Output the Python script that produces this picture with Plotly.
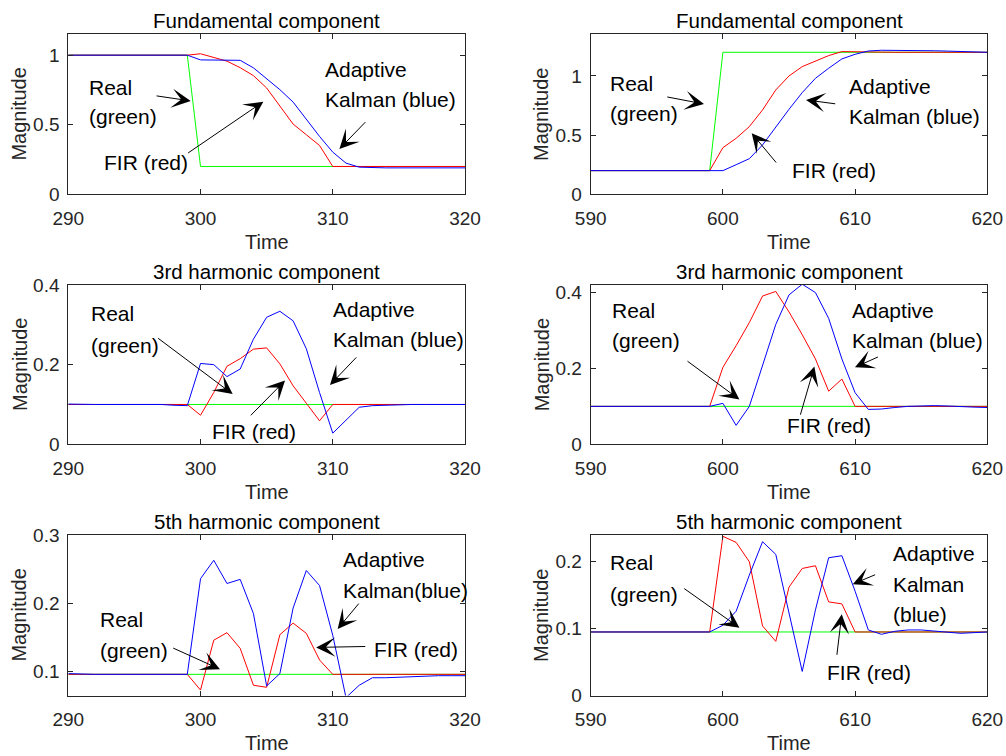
import plotly.graph_objects as go

# Time axes (one sample per time unit)
t_left = list(range(290, 321))
t_right = list(range(590, 621))

# Fundamental component, step down at t=300
real_f1 = [1.0, 1.0, 1.0, 1.0, 1.0, 1.0, 1.0, 1.0, 1.0, 1.0,
           0.2, 0.2, 0.2, 0.2, 0.2, 0.2, 0.2, 0.2, 0.2, 0.2, 0.2,
           0.2, 0.2, 0.2, 0.2, 0.2, 0.2, 0.2, 0.2, 0.2, 0.2]
fir_f1 = [1.0, 1.0, 1.0, 1.0, 1.0, 1.0, 1.0, 1.0, 1.0, 1.0,
          1.01, 0.986, 0.957, 0.91, 0.853, 0.764, 0.637, 0.505, 0.428, 0.351, 0.2,
          0.2, 0.2, 0.2, 0.2, 0.2, 0.2, 0.2, 0.2, 0.2, 0.2]
kal_f1 = [1.0, 1.0, 1.0, 1.0, 1.0, 1.0, 1.0, 1.0, 1.0, 1.0,
          0.966, 0.965, 0.965, 0.963, 0.909, 0.83, 0.752, 0.663, 0.536, 0.416, 0.303,
          0.224, 0.195, 0.19, 0.19, 0.19, 0.19, 0.19, 0.19, 0.19, 0.19]

# Fundamental component, step up at t=600
real_f2 = [0.2, 0.2, 0.2, 0.2, 0.2, 0.2, 0.2, 0.2, 0.2, 0.2,
           1.2, 1.2, 1.2, 1.2, 1.2, 1.2, 1.2, 1.2, 1.2, 1.2, 1.2,
           1.2, 1.2, 1.2, 1.2, 1.2, 1.2, 1.2, 1.2, 1.2, 1.2]
fir_f2 = [0.2, 0.2, 0.2, 0.2, 0.2, 0.2, 0.2, 0.2, 0.2, 0.2,
          0.394, 0.473, 0.572, 0.713, 0.882, 1.0, 1.079, 1.127, 1.172, 1.206, 1.203,
          1.2, 1.2, 1.2, 1.2, 1.2, 1.2, 1.2, 1.2, 1.2, 1.2]
kal_f2 = [0.2, 0.2, 0.2, 0.2, 0.2, 0.2, 0.2, 0.2, 0.2, 0.2,
          0.2, 0.25, 0.301, 0.417, 0.572, 0.718, 0.859, 0.98, 1.065, 1.144, 1.183,
          1.211, 1.217, 1.217, 1.216, 1.215, 1.213, 1.21, 1.207, 1.204, 1.2]

# 3rd harmonic component
real_h3_1 = [0.1] * 31
fir_h3_1 = [0.1, 0.1, 0.1, 0.1, 0.1, 0.1, 0.1, 0.1, 0.1, 0.1,
            0.073, 0.13, 0.196, 0.215, 0.239, 0.242, 0.202, 0.147, 0.103, 0.059, 0.1,
            0.1, 0.1, 0.1, 0.1, 0.1, 0.1, 0.1, 0.1, 0.1, 0.1]
kal_h3_1 = [0.101, 0.1, 0.1, 0.1, 0.1, 0.1, 0.1, 0.1, 0.098, 0.097,
            0.203, 0.2, 0.17, 0.189, 0.264, 0.319, 0.334, 0.31, 0.24, 0.13, 0.028,
            0.06, 0.093, 0.097, 0.098, 0.1, 0.1, 0.1, 0.1, 0.1, 0.1]

real_h3_2 = [0.1] * 31
fir_h3_2 = [0.1, 0.1, 0.1, 0.1, 0.1, 0.1, 0.1, 0.1, 0.1, 0.1,
            0.203, 0.26, 0.321, 0.391, 0.403, 0.349, 0.289, 0.225, 0.14, 0.172, 0.1,
            0.1, 0.1, 0.1, 0.1, 0.1, 0.1, 0.1, 0.1, 0.1, 0.1]
kal_h3_2 = [0.1, 0.1, 0.1, 0.1, 0.1, 0.1, 0.1, 0.1, 0.1, 0.1,
            0.108, 0.05, 0.1, 0.207, 0.316, 0.394, 0.422, 0.4, 0.332, 0.225, 0.136,
            0.092, 0.093, 0.097, 0.1, 0.101, 0.102, 0.101, 0.099, 0.098, 0.097]

# 5th harmonic component
real_h5_1 = [0.096] * 31
fir_h5_1 = [0.096, 0.096, 0.096, 0.096, 0.096, 0.096, 0.096, 0.096, 0.096, 0.096,
            0.073, 0.146, 0.157, 0.134, 0.08, 0.077, 0.154, 0.171, 0.156, 0.117, 0.096,
            0.096, 0.096, 0.096, 0.096, 0.096, 0.096, 0.096, 0.096, 0.096, 0.096]
kal_h5_1 = [0.097, 0.096, 0.096, 0.096, 0.096, 0.096, 0.096, 0.097, 0.097, 0.096,
            0.236, 0.263, 0.229, 0.235, 0.185, 0.079, 0.097, 0.193, 0.248, 0.226, 0.153,
            0.062, 0.08, 0.091, 0.091, 0.092, 0.093, 0.093, 0.094, 0.094, 0.094]

real_h5_2 = [0.095] * 31
fir_h5_2 = [0.095, 0.095, 0.095, 0.095, 0.095, 0.095, 0.095, 0.095, 0.095, 0.095,
            0.238, 0.229, 0.2, 0.104, 0.081, 0.162, 0.19, 0.194, 0.14, 0.137, 0.095,
            0.095, 0.095, 0.095, 0.095, 0.095, 0.095, 0.095, 0.095, 0.095, 0.095]
kal_h5_2 = [0.095, 0.095, 0.095, 0.095, 0.095, 0.095, 0.095, 0.095, 0.095, 0.095,
            0.105, 0.126, 0.18, 0.23, 0.211, 0.125, 0.036, 0.128, 0.206, 0.209, 0.156,
            0.098, 0.0915, 0.096, 0.098, 0.098, 0.096, 0.094, 0.093, 0.094, 0.095]

titles = ["Fundamental component", "Fundamental component",
          "3rd harmonic component", "3rd harmonic component",
          "5th harmonic component", "5th harmonic component"]

x_ticks_left = [290, 300, 310, 320]
x_ticks_right = [590, 600, 610, 620]
y_ticks = [[0, 0.5, 1], [0, 0.5, 1], [0, 0.2, 0.4], [0, 0.2, 0.4],
           [0.1, 0.2, 0.3], [0, 0.1, 0.2]]
y_tick_text = [["0", "0.5", "1"], ["0", "0.5", "1"], ["0", "0.2", "0.4"],
               ["0", "0.2", "0.4"], ["0.1", "0.2", "0.3"], ["0", "0.1", "0.2"]]
y_ranges = [[0, 1.15], [0, 1.352], [0, 0.4], [0, 0.42], [0.065, 0.3], [0, 0.24]]

panels = [
    (t_left, real_f1, fir_f1, kal_f1),
    (t_right, real_f2, fir_f2, kal_f2),
    (t_left, real_h3_1, fir_h3_1, kal_h3_1),
    (t_right, real_h3_2, fir_h3_2, kal_h3_2),
    (t_left, real_h5_1, fir_h5_1, kal_h5_1),
    (t_right, real_h5_2, fir_h5_2, kal_h5_2),
]

# Text labels per panel: (text, x, y) in data units, left aligned
labels = [
    [("Real", 291.43, 0.769), ("(green)", 291.43, 0.558), ("FIR (red)", 292.52, 0.23),
     ("Adaptive", 309.24, 0.894), ("Kalman (blue)", 309.24, 0.678)],
    [("Real", 591.33, 0.938), ("(green)", 591.33, 0.679), ("FIR (red)", 605.08, 0.205),
     ("Adaptive", 609.41, 0.915), ("Kalman (blue)", 609.41, 0.656)],
    [("Real", 291.59, 0.329), ("(green)", 291.59, 0.249), ("FIR (red)", 300.72, 0.0334),
     ("Adaptive", 309.87, 0.339), ("Kalman (blue)", 309.87, 0.264)],
    [("Real", 591.46, 0.354), ("(green)", 591.46, 0.274), ("FIR (red)", 604.7, 0.0496),
     ("Adaptive", 609.62, 0.354), ("Kalman (blue)", 609.62, 0.274)],
    [("Real", 292.22, 0.177), ("(green)", 292.22, 0.1305), ("FIR (red)", 313.0, 0.133),
     ("Adaptive", 310.6, 0.264), ("Kalman(blue)", 310.6, 0.219)],
    [("Real", 591.33, 0.199), ("(green)", 591.33, 0.151), ("FIR (red)", 607.72, 0.0337),
     ("Adaptive", 612.7, 0.2116), ("Kalman", 612.7, 0.1665), ("(blue)", 612.7, 0.121)],
]

# Pointer arrows per panel: (tail_x, tail_y, head_x, head_y) in data units
arrows = [
    [(296.56, 0.709, 299.26, 0.671), (298.95, 0.29, 304.75, 0.666),
     (312.57, 0.529, 310.5, 0.326)],
    [(595.68, 0.825, 598.57, 0.763), (608.61, 0.763, 606.29, 0.797),
     (604.12, 0.256, 602.18, 0.516)],
    [(296.68, 0.269, 302.43, 0.126), (303.69, 0.069, 306.39, 0.16),
     (311.89, 0.222, 309.79, 0.149)],
    [(597.21, 0.222, 601.25, 0.118), (605.83, 0.074, 606.92, 0.205),
     (611.84, 0.232, 609.99, 0.203)],
    [(297.82, 0.1354, 301.47, 0.1035), (312.06, 0.2017, 310.37, 0.1625),
     (312.57, 0.1368, 308.74, 0.1354)],
    [(596.96, 0.1615, 601.25, 0.1014), (608.61, 0.0586, 608.99, 0.1214),
     (611.63, 0.1815, 609.82, 0.1665)],
]

W, H = 1006, 756
FONT = "Liberation Sans, Arial, Helvetica, sans-serif"
AXIS_COLOR = "#262626"

# Plot box edges in pixels
col_px = [(68.3, 465.0), (590.7, 987.3)]
row_px = [(34.3, 194.3), (285.0, 444.3), (535.0, 695.5)]

fig = go.Figure()
annotations = []

for i, (t, real, fir, kal) in enumerate(panels):
    r, c = divmod(i, 2)
    n = i + 1
    xa = "x" if n == 1 else f"x{n}"
    ya = "y" if n == 1 else f"y{n}"
    for vals, color in ((real, "#00ff00"), (fir, "#ff0000"), (kal, "#0000ff")):
        fig.add_trace(go.Scatter(x=t, y=vals, mode="lines", xaxis=xa, yaxis=ya,
                                 line=dict(color=color, width=1), showlegend=False,
                                 hoverinfo="skip"))
    x0, x1 = col_px[c]
    y0, y1 = row_px[r]
    xticks = x_ticks_left if c == 0 else x_ticks_right
    common = dict(showline=True, linecolor=AXIS_COLOR, linewidth=1, mirror="ticks",
                  ticks="inside", ticklen=5, tickcolor=AXIS_COLOR, tickwidth=1,
                  showgrid=False, zeroline=False, automargin=False,
                  tickfont=dict(family=FONT, size=19, color=AXIS_COLOR))
    fig.update_layout(**{
        ("xaxis" if n == 1 else f"xaxis{n}"): dict(
            domain=[x0 / W, x1 / W], range=[xticks[0], xticks[-1]],
            tickvals=xticks, ticktext=[str(v) for v in xticks],
            anchor=ya, ticklabelstandoff=7, **common),
        ("yaxis" if n == 1 else f"yaxis{n}"): dict(
            domain=[1 - y1 / H, 1 - y0 / H], range=y_ranges[i],
            tickvals=y_ticks[i], ticktext=y_tick_text[i], anchor=xa,
            ticklabelstandoff=4, **common),
    })
    xc = (x0 + x1) / 2
    # panel title
    annotations.append(dict(text=titles[i], x=xc / W, y=1 - (y0 - 14) / H,
                            xref="paper", yref="paper", showarrow=False,
                            xanchor="center", yanchor="middle",
                            font=dict(family=FONT, size=20.5, color="#000000")))
    # x axis title
    annotations.append(dict(text="Time", x=xc / W, y=1 - (y1 + 47.5) / H,
                            xref="paper", yref="paper", showarrow=False,
                            xanchor="center", yanchor="middle",
                            font=dict(family=FONT, size=20, color=AXIS_COLOR)))
    # y axis title
    annotations.append(dict(text="Magnitude", x=(x0 - 49) / W, y=1 - (y0 + y1) / 2 / H,
                            xref="paper", yref="paper", showarrow=False, textangle=-90,
                            xanchor="center", yanchor="middle",
                            font=dict(family=FONT, size=20, color=AXIS_COLOR)))
    for text, tx, ty in labels[i]:
        annotations.append(dict(text=text, x=tx, y=ty, xref=xa, yref=ya,
                                showarrow=False, xanchor="left", yanchor="middle",
                                font=dict(family=FONT, size=21, color="#000000")))
    for ax_, ay_, hx, hy in arrows[i]:
        annotations.append(dict(text="", x=hx, y=hy, xref=xa, yref=ya,
                                ax=ax_, ay=ay_, axref=xa, ayref=ya,
                                showarrow=True, arrowhead=3, arrowsize=3.2,
                                arrowwidth=1, arrowcolor="#000000", standoff=0))

fig.update_layout(width=W, height=H, margin=dict(l=0, r=0, t=0, b=0),
                  paper_bgcolor="white", plot_bgcolor="white",
                  annotations=annotations, showlegend=False)

fig.write_html("out.html")
